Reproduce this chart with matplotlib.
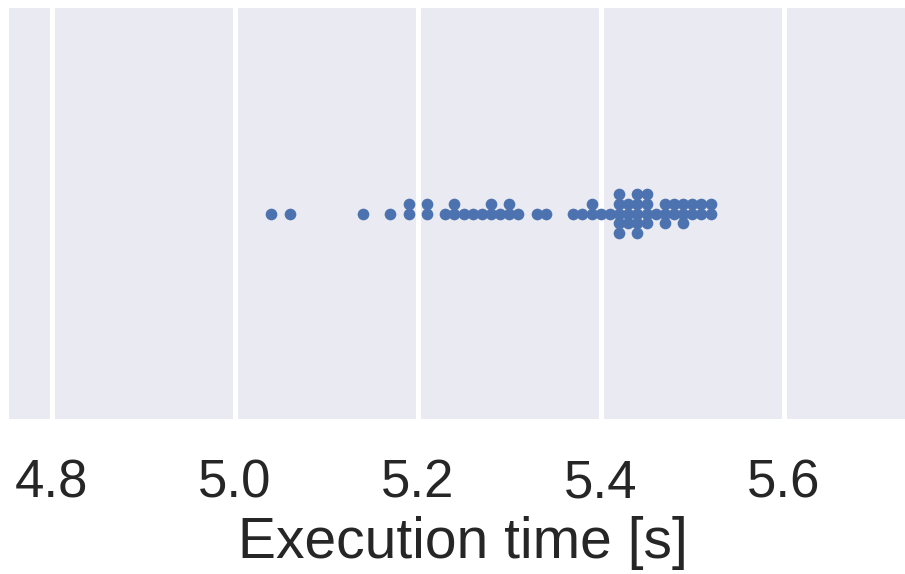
import matplotlib
matplotlib.use("Agg")
import matplotlib.pyplot as plt
import seaborn as sns
import numpy as np

# Execution times (s): value -> count
values = [5.04, 5.06, 5.14, 5.17, 5.19, 5.21, 5.23, 5.24, 5.25, 5.26, 5.27, 5.28,
          5.29, 5.30, 5.31, 5.33, 5.34, 5.37, 5.38, 5.39, 5.40, 5.41, 5.42, 5.43,
          5.44, 5.45, 5.46, 5.47, 5.48, 5.49, 5.50, 5.51, 5.52]
counts = [1, 1, 1, 1, 2, 2, 1, 2, 1, 1, 1, 2,
          1, 2, 1, 1, 1, 1, 1, 2, 1, 1, 5, 3,
          5, 4, 1, 3, 2, 3, 2, 2, 2]
times = np.repeat(values, counts)
xticks = [4.8, 5.0, 5.2, 5.4, 5.6]
xlabel = "Execution time [s]"

sns.set_theme(style="darkgrid")
plt.rcParams['font.family'] = ['Liberation Sans', 'DejaVu Sans']

fig = plt.figure(figsize=(9.05, 5.74), dpi=100)
ax = fig.add_axes([9.3/905, (574-419)/574, (905-9.3)/905, (419-8)/574])
sns.swarmplot(x=times, ax=ax, size=6.8, color="#4C72B0")

# compute the swarm layout once (with the autoscaled data range), then freeze it
fig.canvas.draw()
for coll in ax.collections:
    if "draw" in coll.__dict__:
        del coll.draw
    coll.set_sizes([8.4 ** 2])
ax.invert_yaxis()

ax.set_xlim(4.7535, 5.7325)
ax.set_xticks(xticks)
ax.set_xticklabels([f"{t:.1f}" for t in xticks], fontsize=38)
ax.set_xlabel(xlabel, fontsize=41)
ax.xaxis.set_label_coords(0.5065, -0.236)
ax.xaxis.label.set_va('top')
ax.grid(True, axis='x', color='white', linewidth=3.6)
ax.grid(False, axis='y')
ax.tick_params(axis='x', pad=28.5, length=0)
ax.set_yticks([])
for s in ax.spines.values():
    s.set_visible(False)

fig.savefig("out.png", dpi=100)
